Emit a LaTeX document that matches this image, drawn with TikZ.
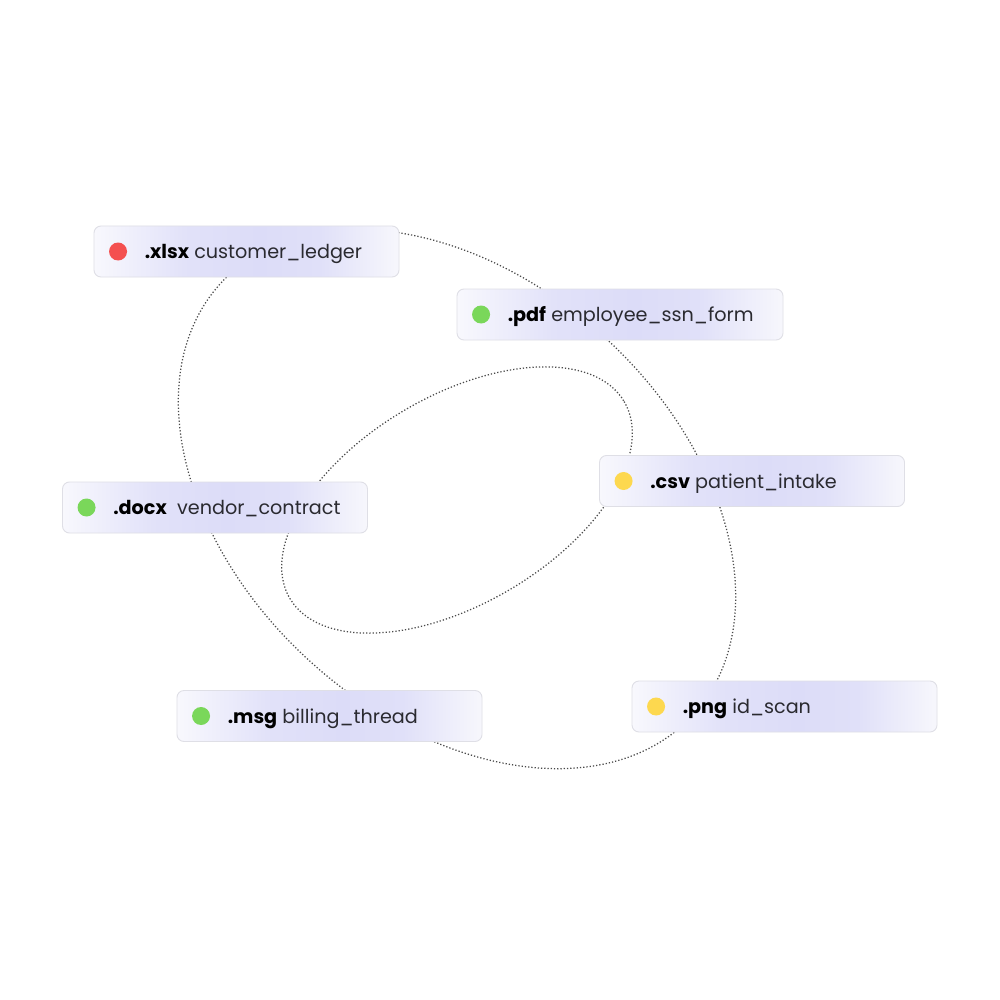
\documentclass[tikz,border=0pt]{standalone}
\usepackage{fontspec}
\setmainfont{Poppins}
\usetikzlibrary{calc}
\definecolor{cardL}{HTML}{F8F8FD}
\definecolor{cardM}{HTML}{DCDCF8}
\definecolor{cardR}{HTML}{F7F7FC}
\definecolor{cardB}{HTML}{DFDFE6}
\definecolor{dotred}{HTML}{F45050}
\definecolor{dotgreen}{HTML}{7AD75A}
\definecolor{dotyellow}{HTML}{FDD84F}
\definecolor{curvecol}{HTML}{4A4A4A}
\definecolor{txtcol}{HTML}{2A2A30}
\pgfdeclarehorizontalshading{cardshade}{100bp}{%
  color(0bp)=(cardL); color(25bp)=(cardL); color(40bp)=(cardM!80!cardL);
  color(52bp)=(cardM); color(62bp)=(cardM!85!cardR); color(75bp)=(cardR); color(100bp)=(cardR)}
\tikzset{
  curve/.style={draw=curvecol, line width=1.25pt, dash pattern=on 1.25pt off 2pt},
  card/.style={draw=cardB, line width=0.9pt, rounded corners=7pt,
    shading=cardshade,
    minimum height=51pt, minimum width=305pt, inner sep=0pt},
  fdot/.style={circle, minimum size=18pt, inner sep=0pt, draw=none},
  lbl/.style={anchor=base west, inner sep=0pt, text=txtcol,
    font=\fontsize{19.2}{21}\selectfont},
}
\begin{document}
\begin{tikzpicture}[x=1pt,y=-1pt]
\useasboundingbox (0,0) rectangle (1000,1000);
\fill[white] (0,0) rectangle (1000,1000);
% rings
\begin{scope}[rotate around={-42.4:(457,499)}]
  \draw[curve] (457,499) ellipse [x radius=320, y radius=219];
\end{scope}
\begin{scope}[rotate around={30.5:(457,500)}]
  \draw[curve] (457,500) ellipse [x radius=194, y radius=104];
\end{scope}
% cards
\node[card] (c1) at (246.5,251.5) {};
\node[fdot, fill=dotred] (c1d) at ($(c1.west)+(24.5,0)$) {};
\node[lbl] (c1t) at ($(c1.west)+(51,7)$) {\textbf{\color{black}.xlsx} customer\_ledger};

\node[card, minimum width=326pt] (c2) at (620,314.5) {};
\node[fdot, fill=dotgreen] (c2d) at ($(c2.west)+(24.5,0)$) {};
\node[lbl] (c2t) at ($(c2.west)+(51,7)$) {\textbf{\color{black}.pdf} employee\_ssn\_form};

\node[card] (c3) at (752,481) {};
\node[fdot, fill=dotyellow] (c3d) at ($(c3.west)+(24.5,0)$) {};
\node[lbl] (c3t) at ($(c3.west)+(51,7)$) {\textbf{\color{black}.csv} patient\_intake};

\node[card] (c4) at (215,507.5) {};
\node[fdot, fill=dotgreen] (c4d) at ($(c4.west)+(24.5,0)$) {};
\node[lbl] (c4t) at ($(c4.west)+(51,7)$) {\textbf{\color{black}.docx}\ \ vendor\_contract};

\node[card] (c5) at (329.5,716) {};
\node[fdot, fill=dotgreen] (c5d) at ($(c5.west)+(24.5,0)$) {};
\node[lbl] (c5t) at ($(c5.west)+(51,7)$) {\textbf{\color{black}.msg} billing\_thread};

\node[card] (c6) at (784.5,706.5) {};
\node[fdot, fill=dotyellow] (c6d) at ($(c6.west)+(24.5,0)$) {};
\node[lbl] (c6t) at ($(c6.west)+(51,7)$) {\textbf{\color{black}.png} id\_scan};
\end{tikzpicture}
\end{document}
